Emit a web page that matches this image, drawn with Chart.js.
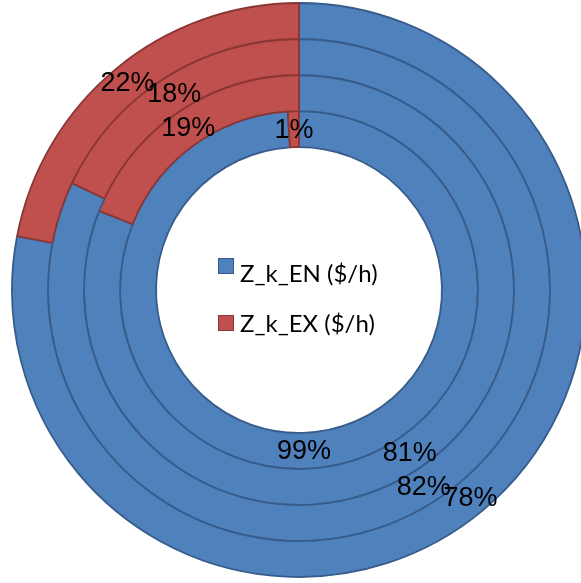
<!DOCTYPE html>
<html>
<head>
<meta charset="utf-8">
<script src="https://cdn.jsdelivr.net/npm/chart.js@4.4.1/dist/chart.umd.min.js"></script>
<style>
  html, body { margin: 0; padding: 0; background: #ffffff; overflow: hidden; }
  #wrap { position: absolute; left: 0; top: 0; width: 598px; height: 580px; }
</style>
</head>
<body>
<div id="wrap"><canvas id="c" width="598" height="580"></canvas></div>
<script>
// Series names and the share (%) of each cost component, one ring per case (outer to inner)
const seriesNames = ['Z_k_EN ($/h)', 'Z_k_EX ($/h)'];
const ring1 = [78, 22];
const ring2 = [82, 18];
const ring3 = [81, 19];
const ring4 = [99, 1];
const rings = [ring1, ring2, ring3, ring4];

const fillColors = ['#4F81BD', '#C0504D'];
const edgeColors = ['#375C8B', '#8A3634'];

// Percentage text at the middle of each segment
const segmentLabels = {
  id: 'segmentLabels',
  afterDatasetsDraw(chart) {
    const ctx = chart.ctx;
    ctx.save();
    ctx.font = '27px "Liberation Sans", Arial, sans-serif';
    ctx.fillStyle = '#000000';
    ctx.textAlign = 'center';
    ctx.textBaseline = 'middle';
    chart.data.datasets.forEach((ds, di) => {
      const meta = chart.getDatasetMeta(di);
      meta.data.forEach((arc, i) => {
        const p = arc.getProps(['x', 'y', 'startAngle', 'endAngle', 'innerRadius', 'outerRadius'], true);
        const a = (p.startAngle + p.endAngle) / 2;
        const r = (p.innerRadius + p.outerRadius) / 2;
        ctx.fillText(ds.data[i] + '%', p.x + Math.cos(a) * r, p.y + Math.sin(a) * r + 1);
      });
    });
    ctx.restore();
  }
};

// Legend drawn inside the hole of the doughnut
const centerLegend = {
  id: 'centerLegend',
  afterDraw(chart) {
    const ctx = chart.ctx;
    const meta = chart.getDatasetMeta(0);
    const cx = meta.data[0].x, cy = meta.data[0].y;
    const rows = [
      { boxTop: cy - 32, baseline: cy - 8 },
      { boxTop: cy + 25, baseline: cy + 42 }
    ];
    ctx.save();
    ctx.font = '24px Lato, "Open Sans", sans-serif';
    ctx.textAlign = 'left';
    ctx.textBaseline = 'alphabetic';
    seriesNames.forEach((name, i) => {
      const row = rows[i];
      ctx.fillStyle = fillColors[i];
      ctx.fillRect(cx - 81, row.boxTop, 16, 16);
      ctx.strokeStyle = edgeColors[i];
      ctx.lineWidth = 1;
      ctx.strokeRect(cx - 80.5, row.boxTop + 0.5, 15, 15);
      ctx.fillStyle = '#000000';
      ctx.fillText(name, cx - 59, row.baseline);
    });
    ctx.restore();
  }
};

new Chart(document.getElementById('c'), {
  type: 'doughnut',
  data: {
    labels: seriesNames,
    datasets: rings.map(values => ({
      data: values,
      backgroundColor: fillColors,
      borderColor: edgeColors,
      borderWidth: 1.8
    }))
  },
  options: {
    responsive: false,
    animation: false,
    devicePixelRatio: 1,
    radius: 287,
    cutout: 144,
    layout: { padding: 0 },
    plugins: {
      legend: { display: false },
      tooltip: { enabled: false },
      title: { display: false }
    }
  },
  plugins: [segmentLabels, centerLegend]
});
</script>
</body>
</html>
